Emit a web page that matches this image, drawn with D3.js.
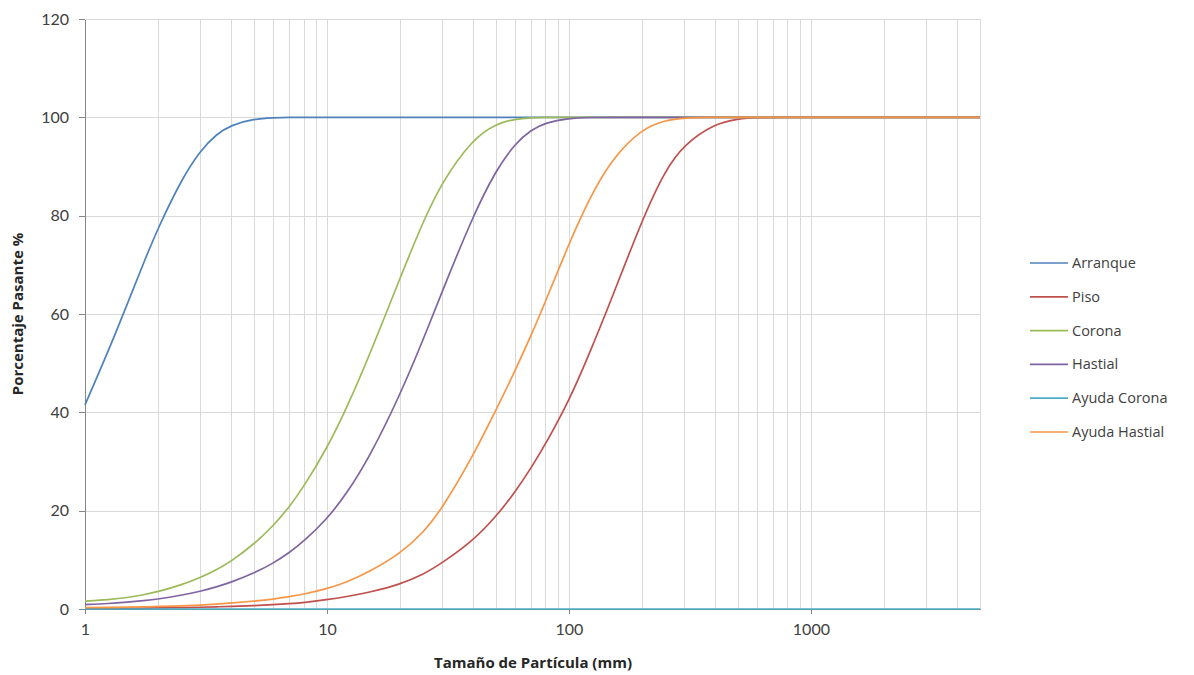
<!DOCTYPE html>
<html>
  <head>
    <title>Granulometria</title>
    <meta charset='utf-8' />
    <script src="https://d3js.org/d3.v7.min.js"></script>
    <style>
    body {
      margin: 0;
      background: #fff;
    }
    .grid line {
      stroke: #d9d9d9;
      stroke-width: 1px;
      shape-rendering: crispEdges;
    }
    .axis path, .axis line {
      stroke: #868686;
      shape-rendering: crispEdges;
    }
    .axis text {
      font-family: Lato, "Open Sans", sans-serif;
      font-size: 16px;
      fill: #404040;
    }
    .title {
      font-family: "Open Sans", Lato, sans-serif;
      font-size: 15px;
      font-weight: bold;
      fill: #262626;
    }
    .legend text {
      font-family: "Open Sans", Lato, sans-serif;
      font-size: 14.5px;
      fill: #404040;
    }
    .serie {
      fill: none;
      stroke-width: 1.7px;
    }
    </style>
  </head>
<body>
<svg id="chart"></svg>
<script type="text/javascript">

// tamaños (mm) donde se leyeron los valores
var sizes = [1, 1.25, 1.5, 1.75, 2, 2.5, 3, 3.5, 4, 5, 6, 7, 8, 10, 12, 15, 20, 25, 30, 40,
             50, 60, 70, 80, 100, 120, 150, 200, 250, 300, 400, 500, 600, 800, 1000, 2000, 5000];

var arranque = [41.5, 52.5, 62.2, 70.5, 77.4, 87.3, 93.3, 96.6, 98.4, 99.7, 99.9, 100, 100, 100, 100, 100, 100, 100, 100, 100,
                100, 100, 100, 100, 100, 100, 100, 100, 100, 100, 100, 100, 100, 100, 100, 100, 100];
var piso = [0.1, 0.12, 0.15, 0.18, 0.2, 0.3, 0.35, 0.45, 0.5, 0.7, 0.9, 1.1, 1.3, 1.9, 2.5, 3.4, 5.0, 7.0, 9.4, 13.8,
            18.8, 23.8, 28.8, 33.5, 42.3, 51.3, 63, 79, 89.3, 94.5, 98.7, 99.7, 99.95, 100, 100, 100, 100];
var corona = [1.6, 1.9, 2.3, 2.9, 3.5, 4.9, 6.4, 8.0, 9.6, 13.2, 16.9, 20.8, 24.8, 32.7, 40.6, 51.6, 67.2, 78.9, 87.0, 95.6,
              98.7, 99.67, 99.93, 99.99, 100, 100, 100, 100, 100, 100, 100, 100, 100, 100, 100, 100, 100];
var hastial = [0.9, 1.1, 1.4, 1.7, 2.0, 2.8, 3.6, 4.5, 5.4, 7.3, 9.3, 11.5, 13.7, 18.3, 23.3, 30.9, 43.4, 54.8, 64.7, 79.8,
               89.3, 94.7, 97.5, 98.9, 99.8, 100, 100, 100, 100, 100, 100, 100, 100, 100, 100, 100, 100];
var ayudaCorona = [0, 0, 0, 0, 0, 0, 0, 0, 0, 0, 0, 0, 0, 0, 0, 0, 0, 0, 0, 0,
                   0, 0, 0, 0, 0, 0, 0, 0, 0, 0, 0, 0, 0, 0, 0, 0, 0];
var ayudaHastial = [0.3, 0.35, 0.4, 0.45, 0.5, 0.65, 0.8, 1.0, 1.2, 1.6, 2.0, 2.5, 3.0, 4.1, 5.4, 7.6, 11.2, 15.5, 20.5, 31,
                    40.5, 48.5, 55.8, 62.5, 74.3, 83, 91.5, 97.7, 99.4, 99.9, 100, 100, 100, 100, 100, 100, 100];

var seriesNames = ["Arranque", "Piso", "Corona", "Hastial", "Ayuda Corona", "Ayuda Hastial"];
var seriesValues = [arranque, piso, corona, hastial, ayudaCorona, ayudaHastial];
var seriesColors = ["#4f81bd", "#c0504d", "#9bbb59", "#8064a2", "#4bacc6", "#f79646"];

var xTicks = [1, 10, 100, 1000];
var yTicks = [0, 20, 40, 60, 80, 100, 120];

var width = 1194,
    height = 675,
    plotLeft = 85,
    plotRight = 980,
    plotTop = 19,
    plotBottom = 609;

var svg = d3.select("#chart")
    .attr("width", width)
    .attr("height", height);

var x = d3.scaleLog().domain([1, 5000]).range([plotLeft, plotRight]);
var y = d3.scaleLinear().domain([0, 120]).range([plotBottom, plotTop]);

// lineas de grilla verticales (1..9 por decada)
var vgrid = [];
[1, 10, 100, 1000].forEach(function(dec) {
  for (var k = 1; k <= 9; k++) {
    var v = dec * k;
    if (v > 1 && v <= 5000) vgrid.push(v);
  }
});

var grid = svg.append("g").attr("class", "grid");
grid.selectAll("line.v")
    .data(vgrid)
  .enter().append("line")
    .attr("class", "v")
    .attr("x1", function(d) { return Math.round(x(d)) + 0.5; })
    .attr("x2", function(d) { return Math.round(x(d)) + 0.5; })
    .attr("y1", plotTop)
    .attr("y2", plotBottom);
grid.selectAll("line.h")
    .data(yTicks.filter(function(d) { return d > 0; }))
  .enter().append("line")
    .attr("class", "h")
    .attr("x1", plotLeft)
    .attr("x2", plotRight)
    .attr("y1", function(d) { return Math.round(y(d)) + 0.5; })
    .attr("y2", function(d) { return Math.round(y(d)) + 0.5; });

// ejes
var xAxis = svg.append("g")
    .attr("class", "axis")
    .attr("transform", "translate(0," + plotBottom + ")")
    .call(d3.axisBottom(x).tickValues(xTicks).tickFormat(d3.format("d")).tickSize(5).tickSizeOuter(0));
xAxis.selectAll("text").attr("dy", "1.1em");

var yAxis = svg.append("g")
    .attr("class", "axis")
    .attr("transform", "translate(" + plotLeft + ",0)")
    .call(d3.axisLeft(y).tickValues(yTicks).tickSize(6).tickSizeOuter(0).tickPadding(10));

// curvas
var line = d3.line()
    .curve(d3.curveBasis)
    .x(function(d, i) { return x(sizes[i]); })
    .y(function(d) { return y(d); });

svg.append("g").selectAll("path.serie")
    .data(seriesValues)
  .enter().append("path")
    .attr("class", "serie")
    .attr("stroke", function(d, i) { return seriesColors[i]; })
    .attr("d", function(d) { return line(d); });

// titulos de ejes
svg.append("text")
    .attr("class", "title")
    .attr("x", 533)
    .attr("y", 668)
    .attr("text-anchor", "middle")
    .text("Tamaño de Partícula (mm)");

svg.append("text")
    .attr("class", "title")
    .attr("transform", "translate(23," + ((plotTop + plotBottom) / 2) + ")rotate(-90)")
    .attr("text-anchor", "middle")
    .text("Porcentaje Pasante %");

// leyenda
var legend = svg.append("g")
    .attr("class", "legend")
    .selectAll("g")
    .data(seriesNames)
  .enter().append("g")
    .attr("transform", function(d, i) { return "translate(1030," + (263 + i * 33.8) + ")"; });
legend.append("line")
    .attr("x1", 0)
    .attr("x2", 38)
    .attr("stroke-width", 1.7)
    .attr("stroke", function(d, i) { return seriesColors[i]; });
legend.append("text")
    .attr("x", 42)
    .attr("dy", "0.35em")
    .text(function(d) { return d; });

</script>
</body>
</html>
